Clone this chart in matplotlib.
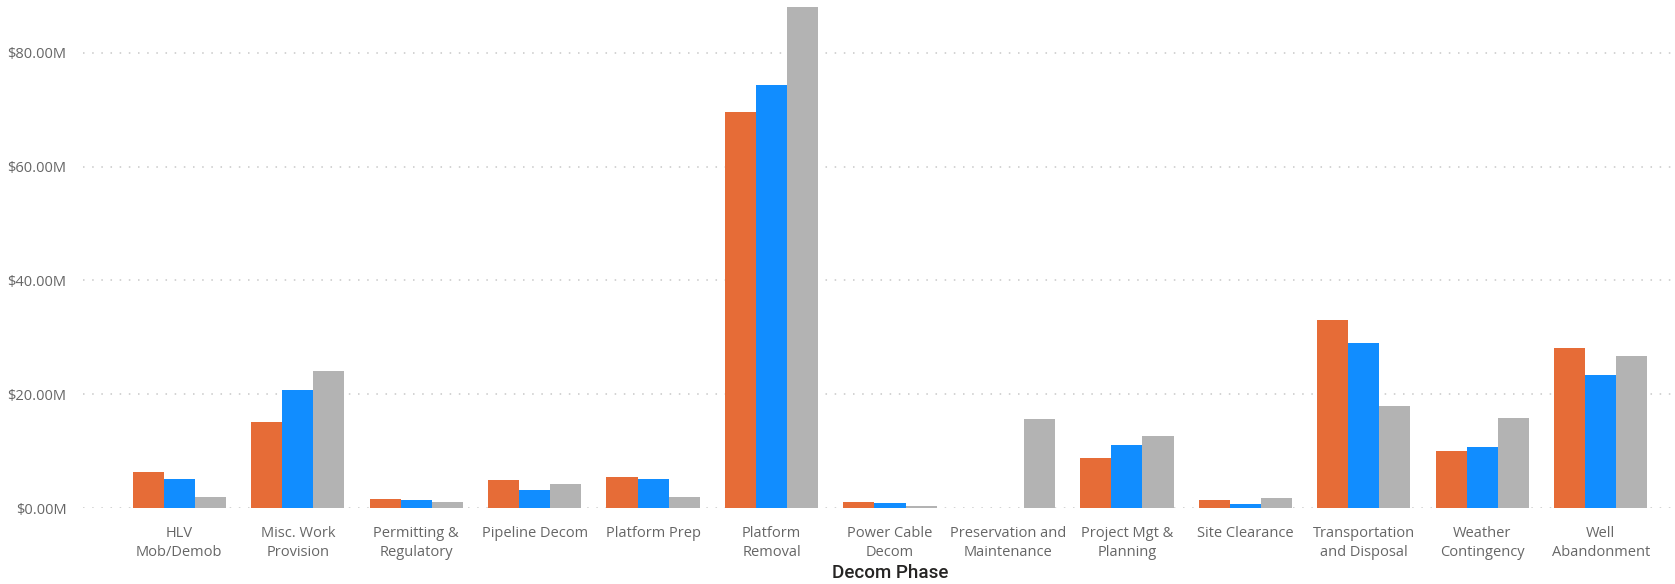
import numpy as np
import matplotlib.pyplot as plt
from matplotlib.ticker import FuncFormatter

# decom phase cost estimates, $M, three scenarios per phase
phases = ['HLV\nMob/Demob', 'Misc. Work\nProvision', 'Permitting &\nRegulatory',
          'Pipeline Decom', 'Platform Prep', 'Platform\nRemoval', 'Power Cable\nDecom',
          'Preservation and\nMaintenance', 'Project Mgt &\nPlanning', 'Site Clearance',
          'Transportation\nand Disposal', 'Weather\nContingency', 'Well\nAbandonment']
est_orange = [6.3, 15.2, 1.7, 5.0, 5.5, 69.5, 1.06, 0.0, 8.9, 1.47, 33.0, 10.0, 28.2]
est_blue = [5.2, 20.8, 1.4, 3.2, 5.1, 74.3, 1.0, 0.0, 11.1, 0.76, 29.0, 10.8, 23.4]
est_gray = [2.0, 24.1, 1.06, 4.2, 1.94, 88.0, 0.47, 15.6, 12.7, 1.76, 17.9, 15.8, 26.7]

colors = ['#E66C37', '#118DFF', '#B3B3B3']

fig = plt.figure(figsize=(16.75, 5.84), dpi=100)
ax = fig.add_axes([83 / 1675, 1 - 508.3 / 584, (1675 - 83) / 1675, 507 / 584])

x = np.arange(len(phases))
w = 0.2626
for i, (vals, c) in enumerate(zip([est_orange, est_blue, est_gray], colors)):
    ax.bar(x + (i - 1) * w, vals, width=w, color=c, zorder=3)

ax.set_xlim(-0.813, 12.627)
ax.set_ylim(0, 89)
ax.set_yticks([0, 20, 40, 60, 80])
ax.yaxis.set_major_formatter(FuncFormatter(lambda v, p: '${:.2f}M'.format(v)))
ax.grid(axis='y', color='#C8C8C8', linestyle=(0, (1, 5)), linewidth=1.1, zorder=0)
ax.set_axisbelow(True)
for s in ax.spines.values():
    s.set_visible(False)

ax.set_xticks(x)
ax.set_xticklabels(phases, fontsize=10.5, color='#666666', family='Open Sans', linespacing=1.3)
ax.tick_params(axis='x', length=0, pad=13)
ax.tick_params(axis='y', length=0, pad=12, labelsize=10.5, labelcolor='#666666')
for t in ax.get_yticklabels():
    t.set_family('Open Sans')

fig.text(890.5 / 1675, 1 - 572.5 / 584, 'Decom Phase', ha='center', va='center',
         fontsize=13.5, color='#252423', family='Roboto', weight='medium')

fig.savefig('out.png', dpi=100)
